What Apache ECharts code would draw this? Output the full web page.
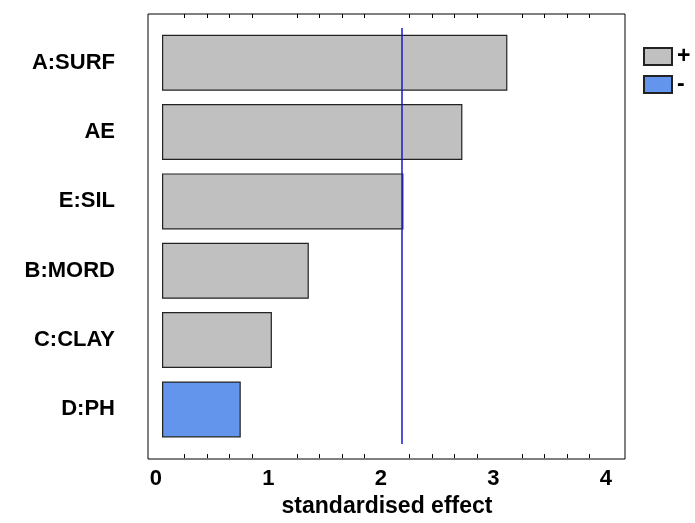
<!DOCTYPE html>
<html>
<head>
<meta charset="utf-8">
<script src="https://cdn.jsdelivr.net/npm/echarts@6/dist/echarts.min.js"></script>
<style>
  html, body { margin: 0; padding: 0; background: #fff; }
  #chart { width: 695px; height: 523px; }
</style>
</head>
<body>
<div id="chart"></div>
<script>
// standardised Pareto chart: effects, sorted largest first
var factors = ['A:SURF', 'AE', 'E:SIL', 'B:MORD', 'C:CLAY', 'D:PH'];
var positive = [3.07, 2.67, 2.146, 1.305, 0.977, '-'];
var negative = ['-', '-', '-', '-', '-', 0.70];
var critical = 2.13;
var xTicks = [0, 1, 2, 3, 4];

var chart = echarts.init(document.getElementById('chart'));

var font = '"Liberation Sans", Arial, sans-serif';

var option = {
    animation: false,
    backgroundColor: '#fff',
    legend: {
        orient: 'vertical',
        left: 643,
        top: 45,
        padding: 0,
        icon: 'rect',
        itemWidth: 28,
        itemHeight: 17,
        itemGap: 5,
        data: ['+', '-'],
        textStyle: { fontFamily: font, fontWeight: 'bold', fontSize: 23, color: '#000' }
    },
    grid: [
        // data grid
        { left: 162, right: 83, top: 28, bottom: 78 },
        // frame
        { left: 148, right: 70, top: 14, bottom: 64, show: true, borderColor: '#000', borderWidth: 1, backgroundColor: 'transparent' }
    ],
    xAxis: [
        {
            gridIndex: 0,
            type: 'value',
            position: 'bottom',
            offset: 14,
            min: xTicks[0],
            max: xTicks[xTicks.length - 1],
            interval: 1,
            axisLine: { show: false },
            axisTick: { inside: true, length: 8, lineStyle: { color: '#000' } },
            minorTick: { show: true, splitNumber: 5, length: 4, lineStyle: { color: '#000' } },
            splitLine: { show: false },
            axisLabel: {
                align: 'right',
                margin: 10,
                fontFamily: font, fontWeight: 'bold', fontSize: 22, color: '#000'
            },
            name: 'standardised effect',
            nameLocation: 'middle',
            nameGap: 23,
            nameTextStyle: { fontFamily: font, fontWeight: 'bold', fontSize: 23, color: '#000' }
        },
        {
            gridIndex: 0,
            type: 'value',
            position: 'top',
            offset: 14,
            min: xTicks[0],
            max: xTicks[xTicks.length - 1],
            interval: 1,
            axisLine: { show: false },
            axisTick: { inside: true, length: 9, lineStyle: { color: '#000' } },
            minorTick: { show: true, splitNumber: 5, length: 4, lineStyle: { color: '#000' } },
            splitLine: { show: false },
            axisLabel: { show: false }
        },
        { gridIndex: 1, type: 'value', show: false }
    ],
    yAxis: [
        {
            gridIndex: 0,
            type: 'category',
            inverse: true,
            data: factors,
            axisLine: { show: false },
            axisTick: { show: false },
            axisLabel: {
                margin: 47,
                fontFamily: font, fontWeight: 'bold', fontSize: 22, color: '#000'
            }
        },
        { gridIndex: 1, type: 'value', show: false }
    ],
    series: [
        {
            name: '+',
            type: 'bar',
            xAxisIndex: 0,
            yAxisIndex: 0,
            barWidth: 56,
            barGap: '-100%',
            data: positive,
            itemStyle: { color: '#c0c0c0', borderColor: '#222', borderWidth: 1.2 },
            markLine: {
                silent: true,
                symbol: 'none',
                label: { show: false },
                lineStyle: { color: '#1a1acc', width: 1.5, type: 'solid' },
                data: [{ xAxis: critical }]
            }
        },
        {
            name: '-',
            type: 'bar',
            xAxisIndex: 0,
            yAxisIndex: 0,
            barWidth: 56,
            barGap: '-100%',
            data: negative,
            itemStyle: { color: '#6495ed', borderColor: '#222', borderWidth: 1.2 }
        }
    ]
};

chart.setOption(option);
</script>
</body>
</html>
